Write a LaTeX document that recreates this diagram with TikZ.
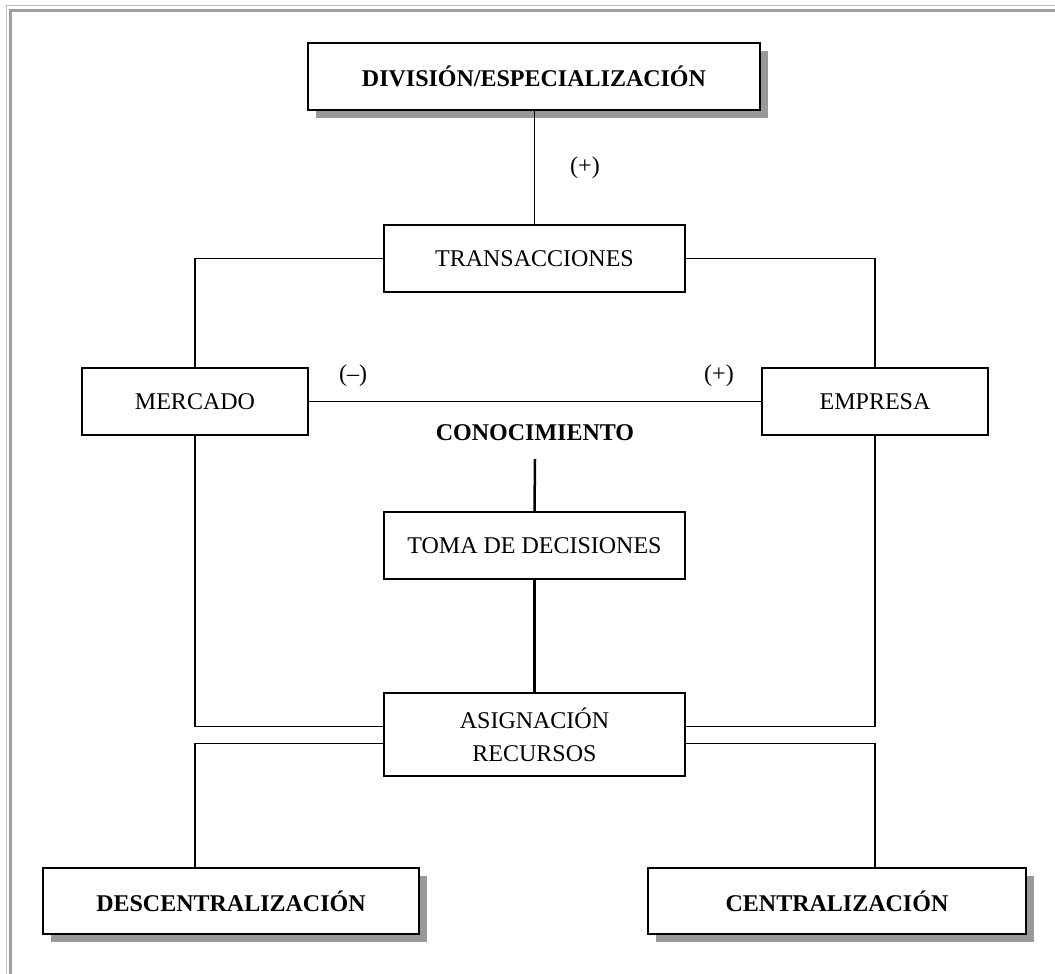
\documentclass[tikz,border=0pt]{standalone}
\usepackage{fontspec}
\setmainfont{Liberation Serif}
\usetikzlibrary{shadows}
\begin{document}
\begin{tikzpicture}[x=1pt,y=-1pt,line width=1.5pt,
    box/.style={draw,fill=white,line width=1.7pt,minimum height=67pt,inner sep=2pt,
      font=\fontsize{24}{29}\selectfont},
    bigbox/.style={box,font=\fontsize{24}{29}\selectfont\bfseries,
      drop shadow={shadow xshift=8pt,shadow yshift=-8pt,fill=gray!80,opacity=1}},
    sign/.style={font=\fontsize{24}{29}\selectfont},
    bold line/.style={line width=2.5pt}]
  \useasboundingbox (0,0) rectangle (1055,974);
  % page frame
  \draw[gray!55,line width=1.3pt] (6.5,974) -- (6.5,5.5) -- (1055,5.5);
  \draw[gray!75,line width=3pt] (10.5,974) -- (10.5,10.5) -- (1055,10.5);

  \node[bigbox,minimum width=452pt] (div) at (534,76.5) {DIVISIÓN/ESPECIALIZACIÓN};
  \node[box,minimum width=301pt] (tra) at (534.5,258.5) {TRANSACCIONES};
  \node[box,minimum width=226pt] (mer) at (195,401.5) {MERCADO};
  \node[box,minimum width=226pt] (emp) at (875,401.5) {EMPRESA};
  \node[font=\fontsize{24}{29}\selectfont\bfseries] (con) at (535,433) {CONOCIMIENTO};
  \node[box,minimum width=301pt] (tom) at (534.5,545.5) {TOMA DE DECISIONES};
  \node[box,minimum width=301pt,minimum height=83pt,align=center,
    font=\fontsize{24}{33}\selectfont] (asi) at (534.5,734.5) {ASIGNACIÓN\\RECURSOS};
  \node[bigbox,minimum width=376pt,minimum height=66pt] (des) at (231,901) {DESCENTRALIZACIÓN};
  \node[bigbox,minimum width=378pt,minimum height=66pt] (cen) at (837,901) {CENTRALIZACIÓN};

  \draw (div.south -| tra.north) -- (tra.north);
  \node[sign] (p1) at (585,168) {(+)};

  \draw (tra.west) -| (mer.north)
  (tra.east) -| (emp.north)
  (mer.east) -- (emp.west);
  \node[sign] (m2) at (353,376) {(–)};
  \node[sign] (p2) at (719,376) {(+)};

  \draw[bold line] ([yshift=-14pt]con.south) -- (tom.north);
  \draw[bold line] (tom.south) -- (asi.north);

  \draw ([yshift=8pt]asi.west) -| (mer.south)
  ([yshift=8pt]asi.east) -| (emp.south)
  ([yshift=-9pt]asi.west) -| (des.north -| mer.south)
  ([yshift=-9pt]asi.east) -| (cen.north -| emp.south);
\end{tikzpicture}
\end{document}
